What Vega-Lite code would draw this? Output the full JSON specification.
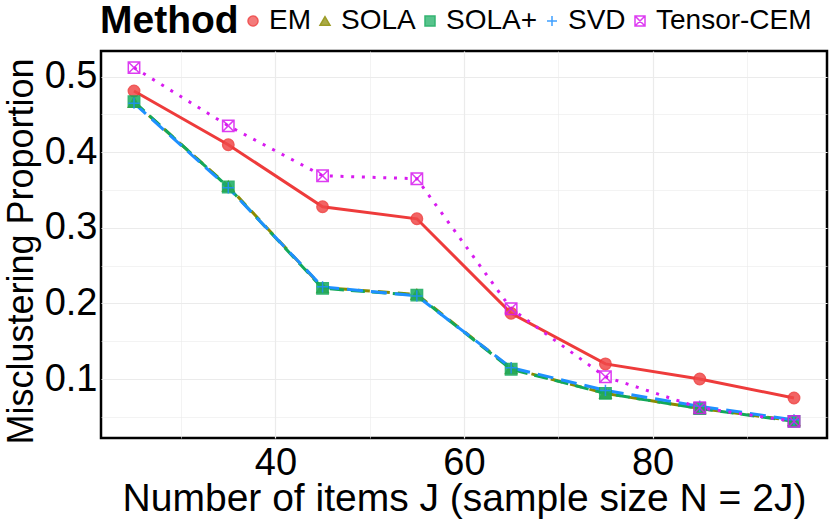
{
  "$schema": "https://vega.github.io/schema/vega-lite/v6.json",
  "width": 726,
  "height": 387,
  "autosize": "none",
  "padding": {"left": 101, "top": 51, "right": 2, "bottom": 84},
  "background": "white",
  "config": {
    "font": "Liberation Sans",
    "view": {"stroke": "#000000", "strokeWidth": 2.5},
    "axis": {"labelFont": "Liberation Sans", "titleFont": "Liberation Sans", "labelColor": "#000000", "titleColor": "#000000", "titleFontWeight": "normal", "domain": false, "ticks": false, "gridColor": "#EBEBEB"},
    "legend": {"labelFont": "Liberation Sans", "titleFont": "Liberation Sans"}
  },
  "data": {
    "values": [
      {"J": 25, "Method": "EM", "value": 0.481},
      {"J": 35, "Method": "EM", "value": 0.410},
      {"J": 45, "Method": "EM", "value": 0.328},
      {"J": 55, "Method": "EM", "value": 0.312},
      {"J": 65, "Method": "EM", "value": 0.187},
      {"J": 75, "Method": "EM", "value": 0.120},
      {"J": 85, "Method": "EM", "value": 0.100},
      {"J": 95, "Method": "EM", "value": 0.075},
      {"J": 25, "Method": "SOLA", "value": 0.466},
      {"J": 35, "Method": "SOLA", "value": 0.355},
      {"J": 45, "Method": "SOLA", "value": 0.221},
      {"J": 55, "Method": "SOLA", "value": 0.212},
      {"J": 65, "Method": "SOLA", "value": 0.114},
      {"J": 75, "Method": "SOLA", "value": 0.081},
      {"J": 85, "Method": "SOLA", "value": 0.061},
      {"J": 95, "Method": "SOLA", "value": 0.045},
      {"J": 25, "Method": "SOLA+", "value": 0.467},
      {"J": 35, "Method": "SOLA+", "value": 0.354},
      {"J": 45, "Method": "SOLA+", "value": 0.220},
      {"J": 55, "Method": "SOLA+", "value": 0.211},
      {"J": 65, "Method": "SOLA+", "value": 0.113},
      {"J": 75, "Method": "SOLA+", "value": 0.081},
      {"J": 85, "Method": "SOLA+", "value": 0.061},
      {"J": 95, "Method": "SOLA+", "value": 0.044},
      {"J": 25, "Method": "SVD", "value": 0.465},
      {"J": 35, "Method": "SVD", "value": 0.353},
      {"J": 45, "Method": "SVD", "value": 0.222},
      {"J": 55, "Method": "SVD", "value": 0.210},
      {"J": 65, "Method": "SVD", "value": 0.115},
      {"J": 75, "Method": "SVD", "value": 0.085},
      {"J": 85, "Method": "SVD", "value": 0.064},
      {"J": 95, "Method": "SVD", "value": 0.046},
      {"J": 25, "Method": "Tensor-CEM", "value": 0.512},
      {"J": 35, "Method": "Tensor-CEM", "value": 0.435},
      {"J": 45, "Method": "Tensor-CEM", "value": 0.369},
      {"J": 55, "Method": "Tensor-CEM", "value": 0.365},
      {"J": 65, "Method": "Tensor-CEM", "value": 0.193},
      {"J": 75, "Method": "Tensor-CEM", "value": 0.103},
      {"J": 85, "Method": "Tensor-CEM", "value": 0.062},
      {"J": 95, "Method": "Tensor-CEM", "value": 0.044}
    ]
  },
  "encoding": {
    "x": {
      "field": "J", "type": "quantitative",
      "scale": {"domain": [21.5, 98.5], "nice": false, "zero": false},
      "axis": {
        "title": "Number of items J (sample size N = 2J)",
        "values": [30, 40, 50, 60, 70, 80, 90],
        "labelExpr": "datum.value % 20 == 0 ? datum.label : ''",
        "gridWidth": {"condition": {"test": "datum.value % 20 == 0", "value": 1.2}, "value": 0.6},
        "labelFontSize": 38, "labelPadding": 6, "labelFlush": false,
        "titleFontSize": 39, "titlePadding": -3
      }
    },
    "y": {
      "field": "value", "type": "quantitative",
      "scale": {"domain": [0.022, 0.534], "nice": false, "zero": false},
      "axis": {
        "title": "Misclustering Proportion",
        "values": [0.05, 0.1, 0.15, 0.2, 0.25, 0.3, 0.35, 0.4, 0.45, 0.5],
        "labelExpr": "(round(datum.value * 100) % 10 == 0) ? format(datum.value, '.1f') : ''",
        "gridWidth": {"condition": {"test": "round(datum.value * 100) % 10 == 0", "value": 1.2}, "value": 0.6},
        "labelFontSize": 38, "labelPadding": 4, "labelFlush": false,
        "titleFontSize": 36, "titlePadding": 4, "titleY": 200
      }
    },
    "stroke": {
      "field": "Method", "type": "nominal",
      "scale": {"domain": ["EM", "SOLA", "SOLA+", "SVD", "Tensor-CEM"], "range": ["#EE3B3B", "#8B8B00", "#12A85A", "#1E90FF", "#D81BF0"]},
      "legend": {
        "title": "Method", "orient": "none", "legendX": -1, "legendY": -44,
        "direction": "horizontal", "titleOrient": "left", "titleFontSize": 39, "titleFontWeight": "bold",
        "titlePadding": 0, "titleBaseline": "middle",
        "labelFontSize": 28, "labelOffset": 2, "columnPadding": -4, "symbolSize": 100, "symbolStrokeWidth": 1.5
      }
    }
  },
  "layer": [
    {
      "transform": [{"filter": "datum.Method == 'EM'"}],
      "mark": {"type": "line", "strokeWidth": 3, "strokeCap": "butt"}
    },
    {
      "transform": [{"filter": "datum.Method == 'SOLA'"}],
      "mark": {"type": "line", "strokeWidth": 3, "strokeCap": "butt", "strokeDash": [12, 8]}
    },
    {
      "transform": [{"filter": "datum.Method == 'SOLA+'"}],
      "mark": {"type": "line", "strokeWidth": 3, "strokeCap": "butt", "strokeDash": [14, 7]}
    },
    {
      "transform": [{"filter": "datum.Method == 'SVD'"}],
      "mark": {"type": "line", "strokeWidth": 3, "strokeCap": "butt", "strokeDash": [16, 8]}
    },
    {
      "transform": [{"filter": "datum.Method == 'Tensor-CEM'"}],
      "mark": {"type": "line", "strokeWidth": 3, "strokeCap": "butt", "strokeDash": [3, 7.7]}
    },
    {
      "mark": {"type": "point", "filled": true, "opacity": 0.85, "strokeWidth": 1.5},
      "encoding": {
        "fill": {
          "field": "Method", "type": "nominal",
          "scale": {"domain": ["EM", "SOLA", "SOLA+", "SVD", "Tensor-CEM"], "range": ["#F04A4A", "#8B8B00", "#17AD60", "transparent", "transparent"]},
          "legend": {
            "title": "Method", "orient": "none", "legendX": -1, "legendY": -44,
            "direction": "horizontal", "titleOrient": "left", "titleFontSize": 39, "titleFontWeight": "bold",
            "titlePadding": 0, "titleBaseline": "middle",
            "labelFontSize": 28, "labelOffset": 2, "columnPadding": -4, "symbolSize": 100, "symbolStrokeWidth": 1.5
          }
        },
        "shape": {
          "field": "Method", "type": "nominal",
          "scale": {"domain": ["EM", "SOLA", "SOLA+", "SVD", "Tensor-CEM"], "range": ["circle", "triangle-up", "square", "M-1,0H1M0,-1V1", "M-1,-1H1V1H-1ZM-1,-1L1,1M-1,1L1,-1"]},
          "legend": {
            "title": "Method", "orient": "none", "legendX": -1, "legendY": -44,
            "direction": "horizontal", "titleOrient": "left", "titleFontSize": 39, "titleFontWeight": "bold",
            "titlePadding": 0, "titleBaseline": "middle",
            "labelFontSize": 28, "labelOffset": 2, "columnPadding": -4, "symbolSize": 100, "symbolStrokeWidth": 1.5
          }
        },
        "size": {"value": 130}
      }
    }
  ]
}
